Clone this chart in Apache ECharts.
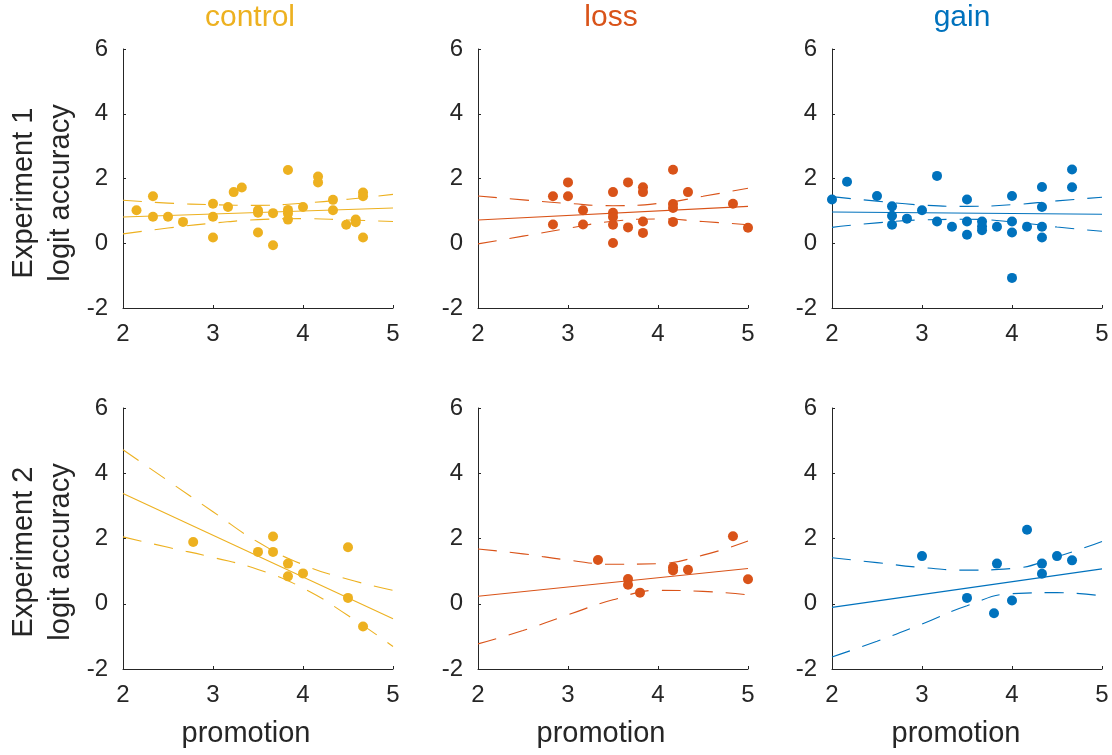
<!DOCTYPE html>
<html>
<head>
<meta charset="utf-8">
<script src="https://cdn.jsdelivr.net/npm/echarts/dist/echarts.min.js"></script>
<style>
html,body{margin:0;padding:0;background:#fff;}
#chart{width:1112px;height:755px;}
</style>
</head>
<body>
<div id="chart"></div>
<script>
// ---------- data ----------
const conditions = ['control', 'loss', 'gain'];
const experiments = ['Experiment 1', 'Experiment 2'];
const yLabelSecond = 'logit accuracy';
const xLabel = 'promotion';
const xTicks = [2, 3, 4, 5];
const yTicks = [-2, 0, 2, 4, 6];
const fitX = [2, 5];
const bandX = [2, 2.5, 3, 3.5, 4, 4.5, 5];

// Experiment 1 - control
const ctrl1X = [2.15, 2.333, 2.333, 2.5, 2.667, 3, 3, 3, 3.167, 3.23, 3.32, 3.5, 3.5, 3.5, 3.667, 3.667, 3.833, 3.833, 3.833, 3.833, 4, 4.167, 4.167, 4.333, 4.333, 4.48, 4.586, 4.586, 4.667, 4.667, 4.667];
const ctrl1Y = [1.02, 1.45, 0.82, 0.82, 0.66, 1.22, 0.82, 0.175, 1.12, 1.58, 1.72, 1.02, 0.94, 0.33, 0.93, -0.06, 2.26, 1.03, 0.92, 0.73, 1.12, 2.06, 1.88, 1.34, 1.02, 0.57, 0.73, 0.65, 1.57, 1.45, 0.175];
const ctrl1Fit = [0.81, 1.09];
const ctrl1Up = [1.33, 1.24, 1.19, 1.17, 1.24, 1.36, 1.51];
const ctrl1Lo = [0.29, 0.47, 0.62, 0.73, 0.76, 0.72, 0.67];

// Experiment 1 - loss
const loss1X = [2.833, 2.833, 3, 3, 3.167, 3.167, 3.5, 3.5, 3.5, 3.5, 3.5, 3.667, 3.667, 3.833, 3.833, 3.833, 3.833, 4.167, 4.167, 4.167, 4.167, 4.333, 4.833, 5];
const loss1Y = [1.45, 0.58, 1.88, 1.45, 1.02, 0.58, 1.58, 0.94, 0.81, 0.57, 0.01, 1.88, 0.49, 1.73, 1.58, 0.67, 0.32, 2.27, 1.21, 1.09, 0.66, 1.58, 1.22, 0.48];
const loss1Fit = [0.72, 1.14];
const loss1Up = [1.46, 1.34, 1.23, 1.16, 1.23, 1.45, 1.70];
const loss1Lo = [-0.02, 0.22, 0.46, 0.68, 0.75, 0.67, 0.57];

// Experiment 1 - gain
const gain1X = [2, 2.167, 2.5, 2.667, 2.667, 2.667, 2.833, 3, 3.167, 3.167, 3.333, 3.5, 3.5, 3.5, 3.667, 3.667, 3.667, 3.833, 4, 4, 4, 4, 4.167, 4.333, 4.333, 4.333, 4.333, 4.667, 4.667];
const gain1Y = [1.35, 1.90, 1.46, 1.14, 0.85, 0.57, 0.76, 1.02, 2.08, 0.67, 0.51, 1.35, 0.67, 0.26, 0.67, 0.52, 0.40, 0.51, 1.46, 0.67, 0.33, -1.07, 0.51, 1.74, 1.12, 0.51, 0.18, 2.28, 1.73];
const gain1Fit = [0.965, 0.895];
const gain1Up = [1.44, 1.30, 1.18, 1.14, 1.19, 1.31, 1.42];
const gain1Lo = [0.49, 0.63, 0.72, 0.74, 0.66, 0.50, 0.37];

// Experiment 2 - control
const ctrl2X = [2.78, 3.5, 3.667, 3.667, 3.833, 3.833, 4, 4.5, 4.5, 4.667];
const ctrl2Y = [1.89, 1.59, 2.06, 1.59, 1.23, 0.84, 0.93, 1.73, 0.18, -0.70];
const ctrl2Fit = [3.38, -0.46];
const ctrl2Up = [4.72, 3.77, 2.82, 1.89, 1.20, 0.75, 0.41];
const ctrl2Lo = [2.05, 1.73, 1.42, 1.05, 0.48, -0.36, -1.31];

// Experiment 2 - loss
const loss2X = [3.333, 3.667, 3.667, 3.8, 4.167, 4.167, 4.333, 4.833, 5];
const loss2Y = [1.34, 0.76, 0.58, 0.34, 1.12, 1.02, 1.04, 2.07, 0.75];
const loss2Fit = [0.23, 1.08];
const loss2Up = [1.68, 1.53, 1.34, 1.21, 1.23, 1.49, 1.92];
const loss2Lo = [-1.23, -0.82, -0.34, 0.12, 0.41, 0.38, 0.27];

// Experiment 2 - gain
const gain2X = [3, 3.5, 3.8, 3.833, 4, 4.167, 4.333, 4.333, 4.5, 4.667];
const gain2Y = [1.46, 0.18, -0.29, 1.23, 0.10, 2.27, 1.23, 0.92, 1.46, 1.33];
const gain2Fit = [-0.11, 1.07];
const gain2Up = [1.41, 1.26, 1.11, 1.03, 1.08, 1.44, 1.91];
const gain2Lo = [-1.63, -1.15, -0.62, -0.06, 0.31, 0.34, 0.24];

// ---------- layout / style ----------
const colors = ['#EDB120', '#D95319', '#0072BD'];
const gridLeft = [123, 478, 832];
const gridTop = [49, 408];
const gridHeight = [259, 261];
const gridWidth = 270;
const axisColor = '#262626';
const fontFamily = '"Liberation Sans", Arial, Helvetica, sans-serif';

const panels = [
  {r: 0, c: 0, x: ctrl1X, y: ctrl1Y, fit: ctrl1Fit, up: ctrl1Up, lo: ctrl1Lo},
  {r: 0, c: 1, x: loss1X, y: loss1Y, fit: loss1Fit, up: loss1Up, lo: loss1Lo},
  {r: 0, c: 2, x: gain1X, y: gain1Y, fit: gain1Fit, up: gain1Up, lo: gain1Lo},
  {r: 1, c: 0, x: ctrl2X, y: ctrl2Y, fit: ctrl2Fit, up: ctrl2Up, lo: ctrl2Lo},
  {r: 1, c: 1, x: loss2X, y: loss2Y, fit: loss2Fit, up: loss2Up, lo: loss2Lo},
  {r: 1, c: 2, x: gain2X, y: gain2Y, fit: gain2Fit, up: gain2Up, lo: gain2Lo}
];

const grids = [], xAxes = [], yAxes = [], series = [];
panels.forEach((p, i) => {
  const col = colors[p.c];
  grids.push({left: gridLeft[p.c], top: gridTop[p.r], width: gridWidth, height: gridHeight[p.r], containLabel: false});
  xAxes.push({
    gridIndex: i, type: 'value', min: xTicks[0], max: xTicks[xTicks.length - 1], interval: 1,
    axisLine: {show: true, onZero: false, lineStyle: {color: axisColor, width: 1}},
    axisTick: {show: true, inside: true, length: 3, lineStyle: {color: axisColor}},
    axisLabel: {color: axisColor, fontSize: 24, fontFamily: fontFamily, margin: 14},
    splitLine: {show: false}
  });
  yAxes.push({
    gridIndex: i, type: 'value', min: yTicks[0], max: yTicks[yTicks.length - 1], interval: 2,
    axisLine: {show: true, onZero: false, lineStyle: {color: axisColor, width: 1}},
    axisTick: {show: true, inside: true, length: 3, lineStyle: {color: axisColor}},
    axisLabel: {color: axisColor, fontSize: 24, fontFamily: fontFamily, margin: 15},
    splitLine: {show: false}
  });
  series.push({
    type: 'scatter', xAxisIndex: i, yAxisIndex: i, z: 2,
    symbol: 'circle', symbolSize: 10,
    itemStyle: {color: col, opacity: 1},
    data: p.x.map((v, k) => [v, p.y[k]])
  });
  series.push({
    type: 'line', xAxisIndex: i, yAxisIndex: i, z: 3, showSymbol: false, symbol: 'none',
    lineStyle: {color: col, width: 1.1},
    data: fitX.map((v, k) => [v, p.fit[k]])
  });
  [p.up, p.lo].forEach(band => {
    series.push({
      type: 'line', xAxisIndex: i, yAxisIndex: i, z: 3, showSymbol: false, symbol: 'none', smooth: true,
      lineStyle: {color: col, width: 1.1, type: [19, 13]},
      data: bandX.map((v, k) => [v, band[k]])
    });
  });
});

const graphics = [];
const titleX = [250, 611, 962];
conditions.forEach((name, c) => {
  graphics.push({type: 'text', x: titleX[c], y: 18, style: {text: name, fill: colors[c], font: '30px ' + fontFamily, align: 'center', verticalAlign: 'middle'}});
});
const xLabelX = [246, 601, 956];
xLabelX.forEach(x => {
  graphics.push({type: 'text', x: x, y: 734, style: {text: xLabel, fill: axisColor, font: '29px ' + fontFamily, align: 'center', verticalAlign: 'middle'}});
});
const yLabelY = [193, 552];
experiments.forEach((name, r) => {
  graphics.push({type: 'text', x: 24, y: yLabelY[r], rotation: Math.PI / 2, style: {text: name, fill: axisColor, font: '29px ' + fontFamily, align: 'center', verticalAlign: 'middle'}});
  graphics.push({type: 'text', x: 61, y: yLabelY[r], rotation: Math.PI / 2, style: {text: yLabelSecond, fill: axisColor, font: '29px ' + fontFamily, align: 'center', verticalAlign: 'middle'}});
});

const chart = echarts.init(document.getElementById('chart'), null, {renderer: 'canvas'});
chart.setOption({
  animation: false,
  backgroundColor: '#ffffff',
  grid: grids,
  xAxis: xAxes,
  yAxis: yAxes,
  series: series,
  graphic: graphics
});
</script>
</body>
</html>
